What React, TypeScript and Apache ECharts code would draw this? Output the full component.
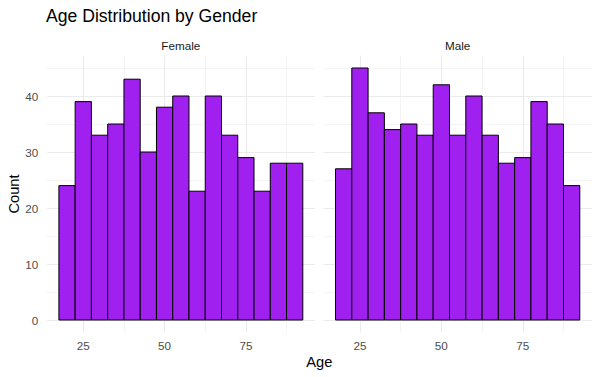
import React, { useEffect, useRef } from "react";
import * as echarts from "echarts";

const binStarts = [17.5, 22.5, 27.5, 32.5, 37.5, 42.5, 47.5, 52.5, 57.5, 62.5, 67.5, 72.5, 77.5, 82.5, 87.5];
const binWidth = 5;
const femaleCounts = [24, 39, 33, 35, 43, 30, 38, 40, 23, 40, 33, 29, 23, 28, 28];
const maleCounts = [27, 45, 37, 34, 35, 33, 42, 33, 40, 33, 28, 29, 39, 35, 24];
const panels = ["Female", "Male"];
const xMajor = [25, 50, 75];
const xMinor = [37.5, 62.5, 87.5];
const yMajor = [0, 10, 20, 30, 40];
const yMinor = [5, 15, 25, 35, 45];

const FONT = "'Liberation Sans', Arial, sans-serif";
const GRID = "#EBEBEB";

export default function App() {
  const ref = useRef<HTMLDivElement>(null);
  useEffect(() => {
    if (!ref.current) return;
    const chart = echarts.init(ref.current, null, { renderer: "svg" });
    const xMin = 13.75, xMax = 96.25, yMin = -2.25, yMax = 47.25;
    const grids = [
      { left: 46.7, right: 285, top: 55.4, bottom: 44.4 },
      { left: 323.3, right: 8, top: 55.4, bottom: 44.4 },
    ];
    const xAxis: any[] = [];
    const yAxis: any[] = [];
    [0, 1].forEach((g) => {
      xAxis.push({
        type: "value", gridIndex: g, min: xMin, max: xMax,
        axisLine: { show: false },
        axisTick: { show: false, customValues: xMajor },
        axisLabel: { show: true, customValues: xMajor, color: "#4D4D4D", fontSize: 11.7, fontFamily: FONT, margin: 7, lineHeight: 12 },
        splitLine: { show: true, lineStyle: { color: GRID, width: 1.1 } },
      });
      xAxis.push({
        type: "value", gridIndex: g, min: xMin, max: xMax,
        axisLine: { show: false },
        axisTick: { show: false, customValues: xMinor },
        axisLabel: { show: false, customValues: xMinor },
        splitLine: { show: true, lineStyle: { color: GRID, width: 0.55 } },
      });
      yAxis.push({
        type: "value", gridIndex: g, min: yMin, max: yMax,
        axisLine: { show: false },
        axisTick: { show: false, customValues: yMajor },
        axisLabel: { show: g === 0, customValues: yMajor, color: "#4D4D4D", fontSize: 11.7, fontFamily: FONT, margin: 8.4 },
        splitLine: { show: true, lineStyle: { color: GRID, width: 1.1 } },
      });
      yAxis.push({
        type: "value", gridIndex: g, min: yMin, max: yMax,
        axisLine: { show: false },
        axisTick: { show: false, customValues: yMinor },
        axisLabel: { show: false, customValues: yMinor },
        splitLine: { show: true, lineStyle: { color: GRID, width: 0.55 } },
      });
    });
    const mkData = (counts: number[]) => binStarts.map((s, i) => [s, s + binWidth, counts[i]]);
    const renderItem = (params: any, api: any) => {
      const p0 = api.coord([api.value(0), api.value(2)]);
      const p1 = api.coord([api.value(1), 0]);
      return {
        type: "rect",
        shape: { x: p0[0], y: p0[1], width: p1[0] - p0[0], height: p1[1] - p0[1] },
        style: { fill: "#A020F0", stroke: "#000000", lineWidth: 1 },
      };
    };
    const series = [femaleCounts, maleCounts].map((c, g) => ({
      type: "custom",
      xAxisIndex: g * 2,
      yAxisIndex: g * 2,
      renderItem,
      encode: { x: [0, 1], y: 2 },
      data: mkData(c),
    }));
    chart.setOption({
      animation: false,
      grid: grids,
      xAxis,
      yAxis,
      series,
      graphic: [
        { type: "text", left: 46, top: 7, style: { text: "Age Distribution by Gender", fontSize: 17.6, fontFamily: FONT, fill: "#000" } },
        { type: "text", x: 180.8, y: 45, style: { text: panels[0], fontSize: 11.7, fontFamily: FONT, fill: "#1A1A1A", align: "center", verticalAlign: "middle" } },
        { type: "text", x: 457.7, y: 45, style: { text: panels[1], fontSize: 11.7, fontFamily: FONT, fill: "#1A1A1A", align: "center", verticalAlign: "middle" } },
        { type: "text", x: 319.3, y: 362, style: { text: "Age", fontSize: 14.7, fontFamily: FONT, fill: "#000", align: "center", verticalAlign: "middle" } },
        { type: "text", x: 14, y: 194, rotation: Math.PI / 2, style: { text: "Count", fontSize: 14.7, fontFamily: FONT, fill: "#000", align: "center", verticalAlign: "middle" } },
      ],
    });
    return () => chart.dispose();
  }, []);
  return <div ref={ref} style={{ width: 600, height: 377, position: "absolute", left: 0, top: 0 }} />;
}
